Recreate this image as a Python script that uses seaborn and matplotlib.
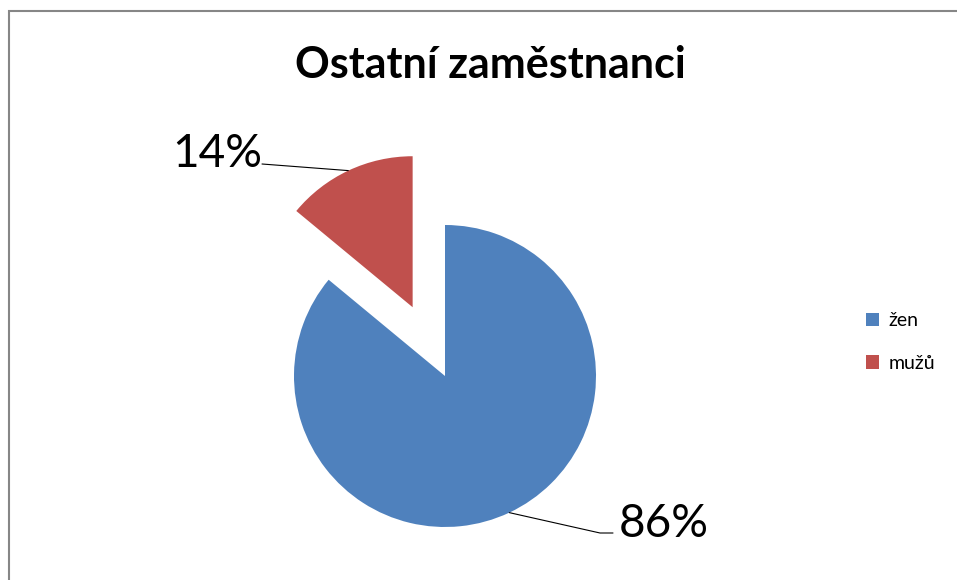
import numpy as np
import seaborn as sns
import matplotlib.pyplot as plt
from matplotlib.patches import Rectangle

# data
categories = ['žen', 'mužů']
shares = [86, 14]
pct_labels = ['86%', '14%']
colors = ['#4F81BD', '#C0504D']
title = 'Ostatní zaměstnanci'

sns.set_theme(style='white')
plt.rcParams['font.family'] = ['Lato', 'DejaVu Sans']
plt.rcParams['text.color'] = 'black'

W, H = 957, 580
fig = plt.figure(figsize=(W / 100, H / 100), dpi=100)
ax = fig.add_axes([0, 0, 1, 1])

cx, cy, r = 445, H - 376, 151
wedges, _ = ax.pie(shares, colors=colors, startangle=90, counterclock=False,
                   center=(cx, cy), radius=r, explode=[0, 76],
                   wedgeprops=dict(linewidth=0))
ax.set_xlim(0, W)
ax.set_ylim(0, H)
ax.set_aspect('equal')
ax.axis('off')

# leader lines + percentage labels, anchored on each wedge's mid angle
label_pos = [(619, H - 533), (172, H - 165)]
for w, txt, (tx, ty) in zip(wedges, pct_labels, label_pos):
    mid = np.deg2rad((w.theta1 + w.theta2) / 2)
    ax_x = w.center[0] + w.r * np.cos(mid)
    ax_y = w.center[1] + w.r * np.sin(mid)
    if tx > ax_x:
        ax.plot([ax_x, tx - 19, tx - 6], [ax_y, ty, ty], color='black', lw=0.8)
        ax.text(tx, ty - 4, txt, fontsize=33, ha='left', va='baseline', color='black')
    else:
        ax.plot([ax_x, tx + 90], [ax_y, ty + 1], color='black', lw=0.8)
        ax.text(tx, ty - 2, txt, fontsize=33, ha='left', va='baseline', color='black')

ax.text(490, H - 78, title, fontsize=31, fontweight='bold', ha='center', va='baseline',
        color='black')

leg = ax.legend(wedges, categories, loc='center left', bbox_to_anchor=(848 / W, 1 - 342 / H),
                frameon=False, fontsize=14, handlelength=0.7, handleheight=0.7,
                handletextpad=0.5, labelspacing=1.3)
for t in leg.get_texts():
    t.set_color('black')

fig.patches.append(Rectangle((9 / W, -0.1), 1.2, 1.1 - 11 / H, transform=fig.transFigure,
                             fill=False, edgecolor='#868686', lw=1.5))

fig.savefig('out.png', dpi=100)
